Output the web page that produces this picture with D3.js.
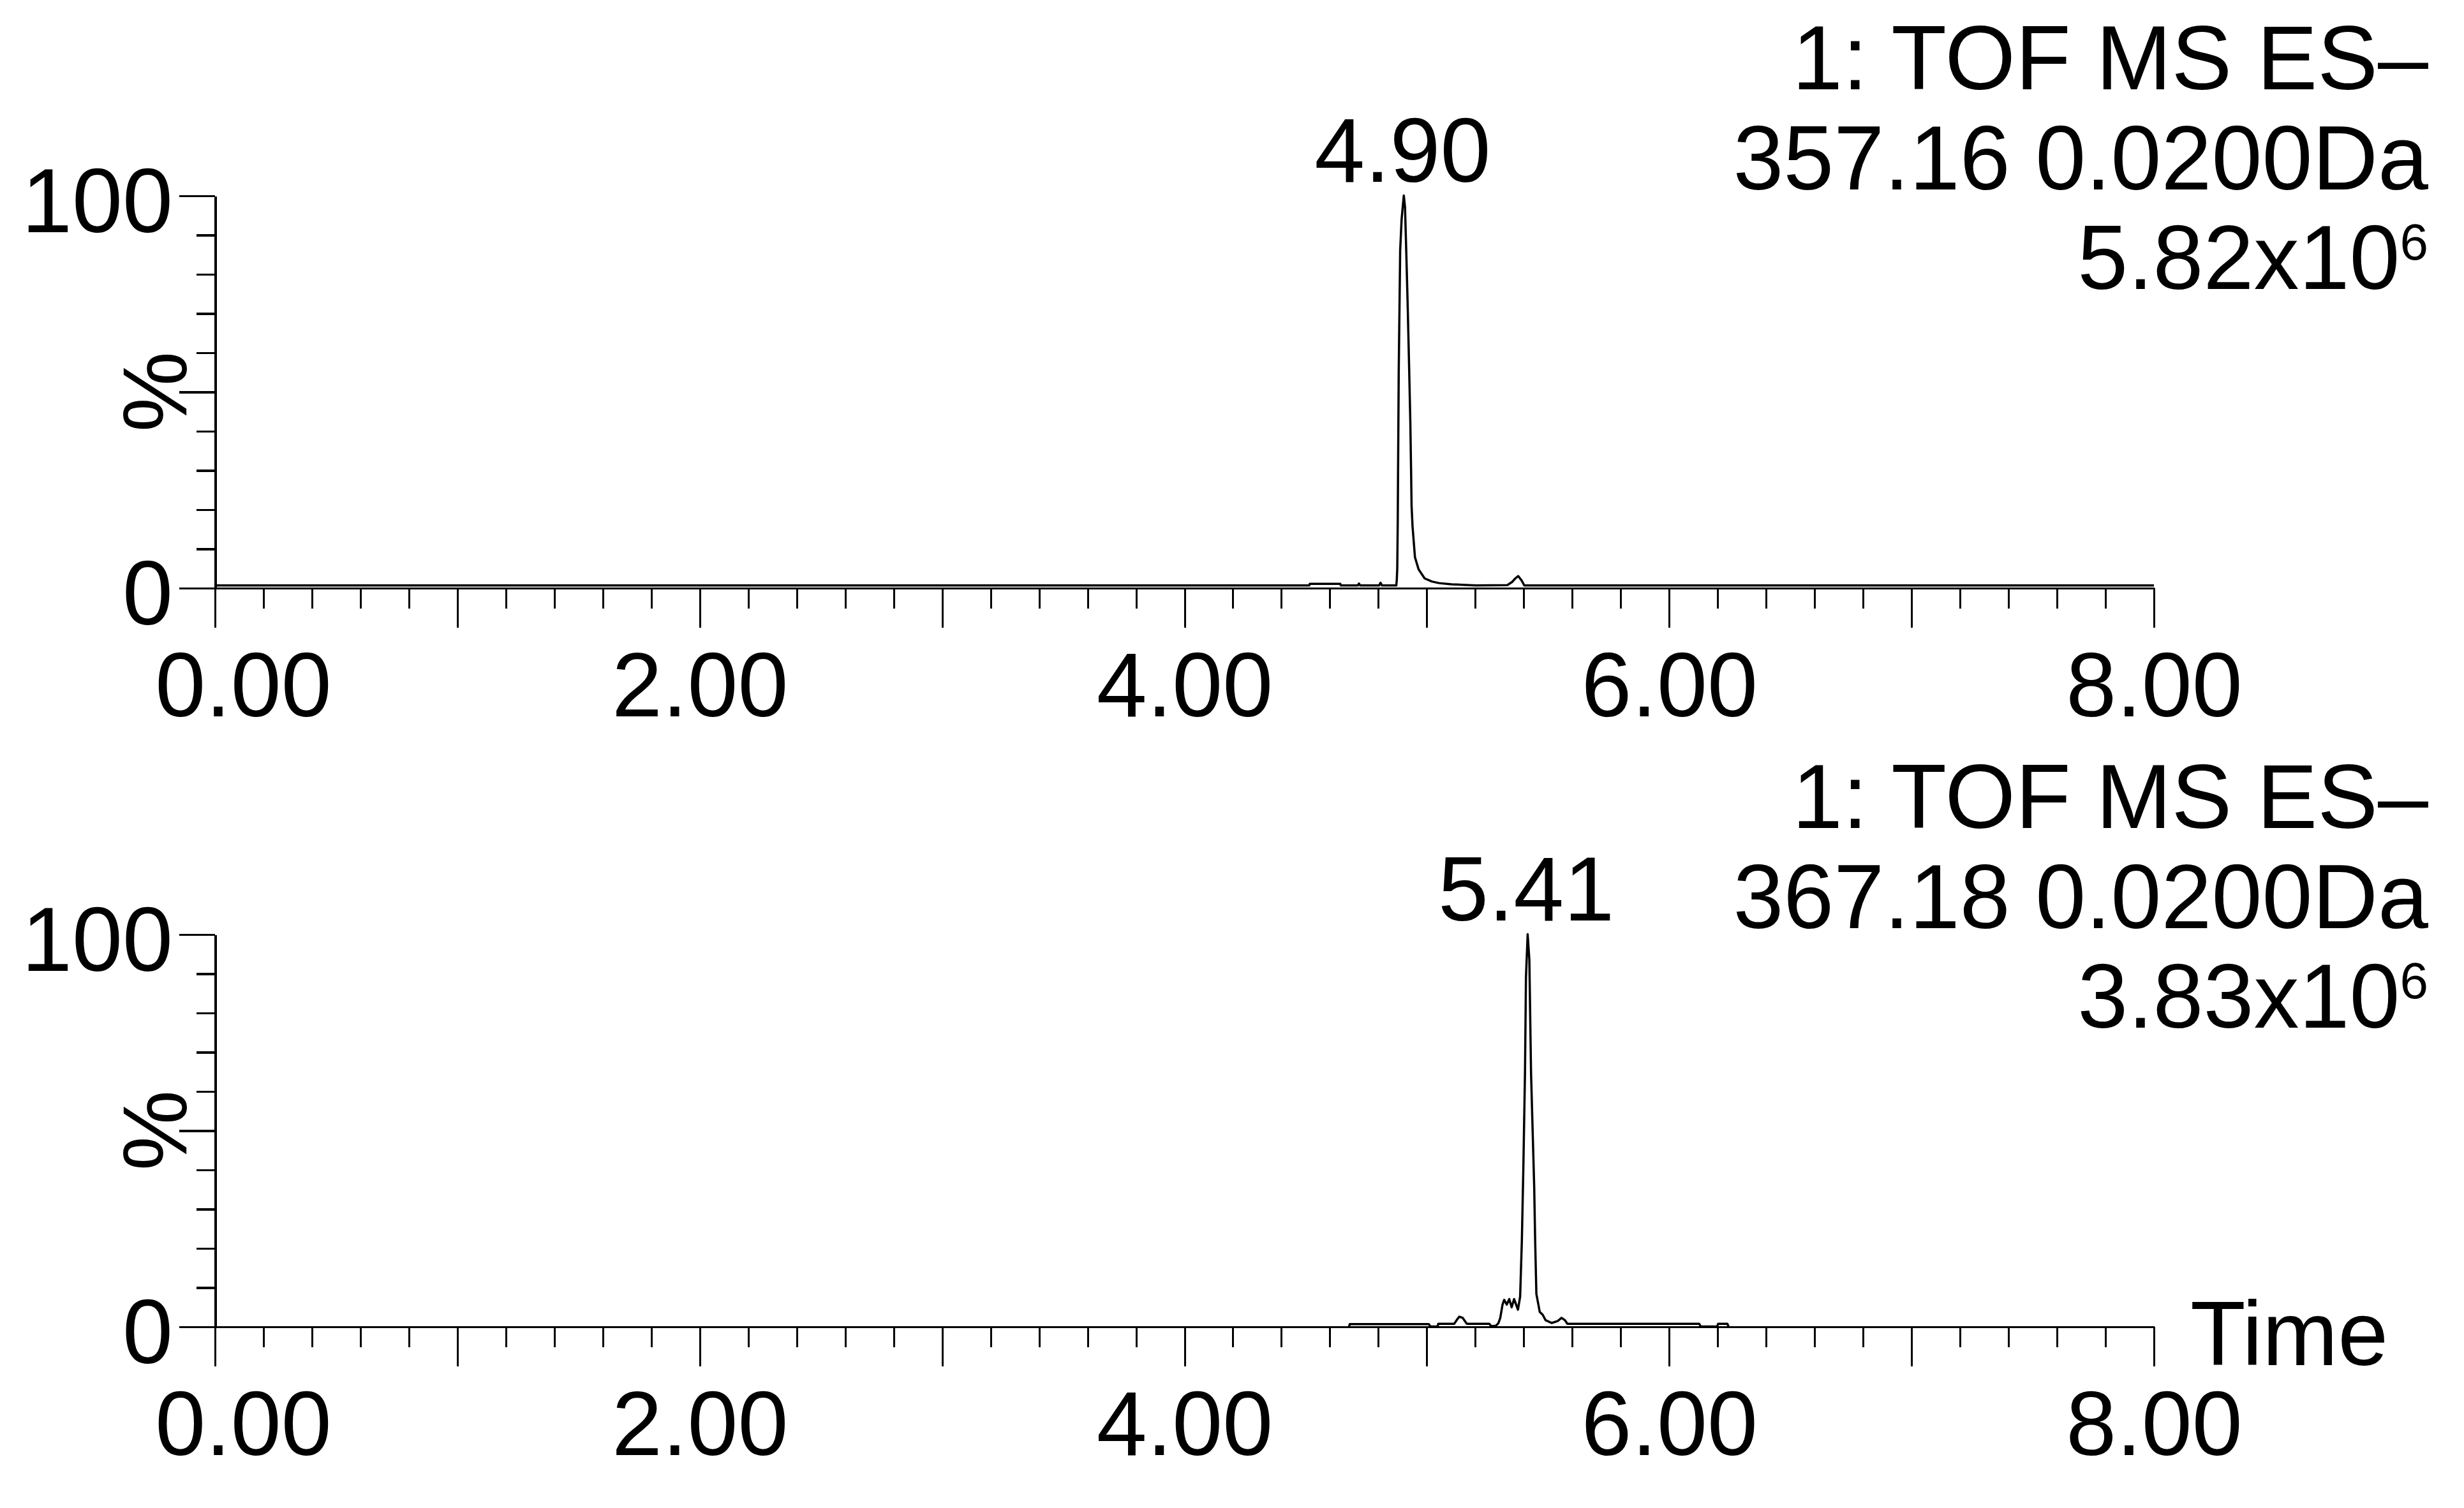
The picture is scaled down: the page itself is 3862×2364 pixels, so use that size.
<!DOCTYPE html>
<meta charset="utf-8">
<head>
<style>
body { margin: 0; background: #fff; }
svg { display: block; }
.trace { fill: none; stroke: #000; stroke-width: 3.5; stroke-linejoin: round; }
.axis path, .axis line { stroke: #000; shape-rendering: crispEdges; }
.label { font-family: "Liberation Sans", Arial, sans-serif; font-size: 142px; fill: #000; }
</style>
</head>
<body>
<div id="chart"></div>
<script src="https://d3js.org/d3.v7.min.js"></script>
<script>

// tick labels
var xTickLabels = [0, 2, 4, 6, 8];
var yTickLabels = [0, 100];

// top chromatogram, 357.16 (time in min, intensity in %)
var topTime = [0, 4.515, 4.517, 4.643, 4.645, 4.715, 4.720, 4.725, 4.803, 4.809, 4.815,
  4.874, 4.876, 4.878, 4.880, 4.884, 4.890, 4.896, 4.905, 4.910, 4.915, 4.921, 4.927,
  4.932, 4.935, 4.937, 4.941, 4.951, 4.966, 4.991, 5.021, 5.051, 5.102, 5.203, 5.332, 5.352,
  5.365, 5.377, 5.392, 5.402, 8.0];
var topIntensity = [0.6, 0.6, 1.0, 1.0, 0.6, 0.6, 1.1, 0.6, 0.6, 1.3, 0.6,
  0.6, 2, 5, 17, 55, 86, 94, 100, 97, 86, 72, 56,
  42, 30, 21, 15.7, 7.8, 4.7, 2.4, 1.6, 1.2, 0.9, 0.6, 0.7, 1.5,
  2.4, 3.0, 1.8, 0.6, 0.6];

// bottom chromatogram, 367.18
var bottomTime = [4.679, 4.682, 5.008, 5.015, 5.045, 5.047, 5.113, 5.125, 5.134, 5.148,
  5.165, 5.258, 5.265, 5.285, 5.295, 5.303, 5.312, 5.319, 5.330, 5.340, 5.350, 5.360,
  5.376, 5.385, 5.392, 5.398, 5.405, 5.409, 5.416, 5.423, 5.430, 5.443, 5.447, 5.452,
  5.466, 5.478, 5.490, 5.515, 5.540, 5.556, 5.570, 5.580, 6.124, 6.130, 6.198, 6.202,
  6.240, 6.245];
var bottomIntensity = [0, 0.6, 0.6, 0, 0, 0.7, 0.7, 1.8, 2.5, 2.2,
  0.7, 0.7, 0.1, 0.2, 0.8, 2.2, 5.5, 6.8, 5.6, 7.0, 4.9, 7.0,
  4.3, 7.6, 21.7, 39.7, 64.6, 89, 100, 93.5, 64.6, 35.6, 21.7, 8.3,
  3.7, 3.0, 1.6, 0.9, 1.4, 2.2, 1.6, 0.7, 0.7, 0, 0, 0.7,
  0.7, 0];

// header texts
var topHeader = ["1: TOF MS ES\u2013", "357.16 0.0200Da"];
var topScale = ["5.82x10", "6"];
var topPeak = 4.90;
var bottomHeader = ["1: TOF MS ES\u2013", "367.18 0.0200Da"];
var bottomScale = ["3.83x10", "6"];
var bottomPeak = 5.41;

var width = 3862, height = 2364;
var panelShift = 1158;

var svg = d3.select("#chart").append("svg")
    .attr("width", width)
    .attr("height", height);

svg.append("rect").attr("width", width).attr("height", height).attr("fill", "#fff");

var x = d3.scaleLinear().domain([0, 8]).range([337, 3376]);

function drawPanel(off, times, values, header, scaleText, peak, showTime) {
  var y = d3.scaleLinear().domain([0, 100]).range([922 + off, 307 + off]);
  var g = svg.append("g");

  // x axis minor ticks
  var minor = d3.range(0, 8.0001, 0.2).filter(function(d){ return Math.abs(d - Math.round(d)) > 1e-6; });
  g.append("g")
    .attr("class", "axis")
    .attr("transform", "translate(0," + y(0) + ")")
    .call(d3.axisBottom(x).tickValues(minor).tickSize(32).tickSizeOuter(0).tickFormat(""))
    .call(function(a){ a.select(".domain").attr("stroke-width", 3.5); a.selectAll("line").attr("stroke-width", 3); });

  // x axis major ticks + labels
  var xa = g.append("g")
    .attr("class", "axis")
    .attr("transform", "translate(0," + y(0) + ")")
    .call(d3.axisBottom(x).tickValues(d3.range(0, 9, 1)).tickSize(62).tickSizeOuter(0)
      .tickFormat(function(d){ return xTickLabels.indexOf(d) >= 0 ? d3.format(".2f")(d) : ""; }));
  xa.select(".domain").remove();
  xa.selectAll("line").attr("stroke-width", 3);
  xa.selectAll("text")
    .attr("class", "label")
    .attr("y", 201)
    .attr("dy", null)
    .attr("dx", function(d){ return d === 0 ? 44 : 0; })
    .attr("font-size", null).attr("font-family", null);

  // y axis major
  var ya = g.append("g")
    .attr("class", "axis")
    .attr("transform", "translate(337,0)")
    .call(d3.axisLeft(y).tickValues([0, 50, 100]).tickSize(56).tickSizeOuter(0)
      .tickFormat(function(d){ return yTickLabels.indexOf(d) >= 0 ? d : ""; }));
  ya.select(".domain").attr("stroke-width", 4);
  ya.selectAll("line").attr("stroke-width", 3.5);
  ya.selectAll("text")
    .attr("class", "label")
    .attr("x", -66)
    .attr("y", 56)
    .attr("dy", null)
    .attr("font-size", null).attr("font-family", null);

  // y axis minor
  g.append("g")
    .attr("class", "axis")
    .attr("transform", "translate(337,0)")
    .call(d3.axisLeft(y).tickValues([10, 20, 30, 40, 60, 70, 80, 90]).tickSize(29).tickSizeOuter(0).tickFormat(""))
    .call(function(a){ a.select(".domain").remove(); a.selectAll("line").attr("stroke-width", 3.5); });

  // % label
  g.append("text")
    .attr("class", "label")
    .attr("text-anchor", "middle")
    .attr("transform", "translate(292," + (614 + off) + ") rotate(-90)")
    .text("%");

  // trace
  var pts = times.map(function(t, i){ return [t, values[i]]; });
  g.append("path")
    .datum(pts)
    .attr("class", "trace")
    .attr("d", d3.line().x(function(d){ return x(d[0]); }).y(function(d){ return y(d[1]) - 0.5; }));

  // peak label
  g.append("text")
    .attr("class", "label")
    .attr("text-anchor", "middle")
    .attr("x", x(peak))
    .attr("y", 285 + off)
    .text(d3.format(".2f")(peak));

  // header block at right
  var rightX = 3806;
  header.forEach(function(h, i){
    g.append("text")
      .attr("class", "label")
      .attr("text-anchor", "end")
      .attr("x", rightX)
      .attr("y", 140 + i * 157 + off)
      .text(h);
  });
  var st = g.append("text")
    .attr("class", "label")
    .attr("text-anchor", "end")
    .attr("x", rightX)
    .attr("y", 453 + off);
  st.append("tspan").text(scaleText[0]);
  st.append("tspan").attr("dy", -46).style("font-size", "80px").text(scaleText[1]);

  if (showTime) {
    g.append("text")
      .attr("class", "label")
      .attr("x", 3433)
      .attr("y", y(0) + 60)
      .text("Time");
  }
}

drawPanel(0, topTime, topIntensity, topHeader, topScale, topPeak, false);
drawPanel(panelShift, bottomTime, bottomIntensity, bottomHeader, bottomScale, bottomPeak, true);

</script>
</body>
</html>
